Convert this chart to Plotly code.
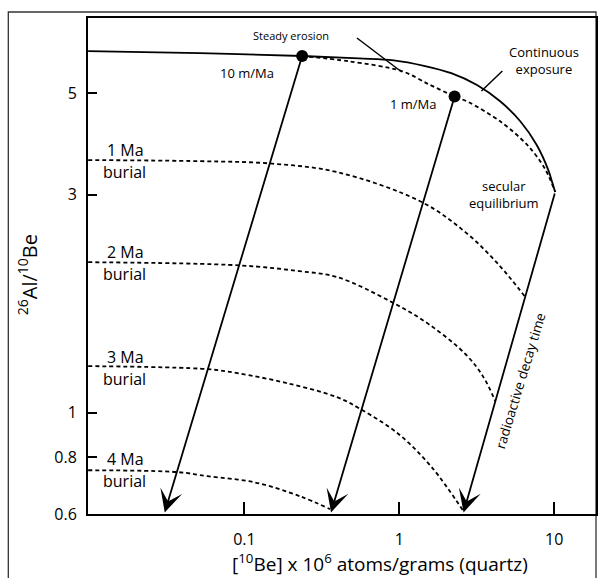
import math
import plotly.graph_objects as go

# ---- data ----
# continuous exposure curve
exp_x = [0.0098, 0.0514, 0.236, 0.549, 0.922, 1.444, 2.166, 3.175, 4.48, 6.04, 7.68, 9.18, 9.77, 10.15]
exp_y = [6.18, 6.12, 6.03, 5.96, 5.90, 5.74, 5.53, 5.21, 4.80, 4.34, 3.86, 3.39, 3.17, 3.04]

# steady erosion curve
ero_x = [0.236, 0.473, 1.038, 1.55, 2.275, 2.80, 4.56, 6.81, 8.75, 10.15]
ero_y = [6.03, 5.87, 5.59, 5.23, 4.92, 4.78, 4.32, 3.83, 3.41, 3.04]

# burial isochrons
b1_x = [0.0098, 0.0514, 0.145, 0.396, 1.395, 2.68, 4.37, 6.51]
b1_y = [3.57, 3.55, 3.51, 3.36, 2.89, 2.48, 2.11, 1.79]
b2_x = [0.0098, 0.0929, 0.2258, 0.396, 0.895, 1.548, 2.68, 3.494, 4.17]
b2_y = [2.134, 2.10, 2.04, 1.98, 1.745, 1.562, 1.342, 1.196, 1.059]
b3_x = [0.0098, 0.0578, 0.0902, 0.189, 0.396, 0.5655, 0.9926, 1.618, 2.60]
b3_y = [1.264, 1.245, 1.22, 1.16, 1.081, 1.017, 0.897, 0.760, 0.608]
b4_x = [0.0098, 0.0371, 0.0578, 0.116, 0.229, 0.357]
b4_y = [0.748, 0.741, 0.726, 0.704, 0.656, 0.615]
burial_labels = ["1 Ma", "2 Ma", "3 Ma", "4 Ma"]

# erosion-rate points (dots)
dot_x = [0.236, 2.275]
dot_y = [6.03, 4.92]

# burial paths (arrows): start -> tip
arrow10_x = [0.236, 0.0306]
arrow10_y = [6.03, 0.605]
arrow1_x = [2.275, 0.3626]
arrow1_y = [4.92, 0.605]
decay_x = [10.15, 2.60]
decay_y = [3.04, 0.605]

x_ticks = [0.1, 1, 10]
x_ticktext = ["0.1", "1", "10"]
y_ticks = [0.6, 0.8, 1, 3, 5]
y_ticktext = ["0.6", "0.8", "1", "3", "5"]

FONT = "Open Sans"
BLACK = "#000000"

fig = go.Figure()

fig.add_trace(go.Scatter(x=exp_x, y=exp_y, mode="lines", line=dict(color=BLACK, width=1.8, shape="spline", smoothing=1.0)))
fig.add_trace(go.Scatter(x=ero_x, y=ero_y, mode="lines", line=dict(color=BLACK, width=1.8, dash="4px,3px", shape="spline", smoothing=0.9)))
for bx, by in [(b1_x, b1_y), (b2_x, b2_y), (b3_x, b3_y), (b4_x, b4_y)]:
    fig.add_trace(go.Scatter(x=bx, y=by, mode="lines", line=dict(color=BLACK, width=1.8, dash="4px,3px", shape="spline", smoothing=1.0)))

fig.add_trace(go.Scatter(x=dot_x, y=dot_y, mode="markers",
                         marker=dict(symbol="circle", size=12, color=BLACK)))

def px2paper(px, py):
    return (px - 88) / 510.0, (514 - py) / 496.0

ann = []
# arrows (log axes: annotation positions are given in log10 units)
for ax_, ay_ in [(arrow10_x, arrow10_y), (arrow1_x, arrow1_y), (decay_x, decay_y)]:
    ann.append(dict(x=math.log10(ax_[1]), y=math.log10(ay_[1]), ax=math.log10(ax_[0]), ay=math.log10(ay_[0]),
                    xref="x", yref="y", axref="x", ayref="y", text="", showarrow=True,
                    arrowhead=3, arrowsize=2.1, arrowwidth=1.8, arrowcolor=BLACK, standoff=0, startstandoff=0))

def add_text(text, px, py, size, angle=0):
    xp, yp = px2paper(px, py)
    ann.append(dict(text=text, x=xp, y=yp, xref="paper", yref="paper", showarrow=False,
                    xanchor="center", yanchor="middle", textangle=angle,
                    font=dict(family=FONT, size=size, color=BLACK)))

add_text("Steady erosion", 292, 36, 11)
add_text("10 m/Ma", 248, 73, 13)
add_text("1 m/Ma", 415, 104, 13)
add_text("Continuous<br>exposure", 546, 60, 13)
add_text("secular<br>equilibrium", 506, 195, 13)
add_text("radioactive decay time", 522, 381, 13.5, -73)

label_centers = [(126, 150, 125, 172), (126, 252, 125, 274), (126, 357, 125, 379), (126, 459, 125, 481)]
for lab, (x1, y1, x2, y2) in zip(burial_labels, label_centers):
    add_text(lab, x1, y1, 16)
    add_text("burial", x2, y2, 16)

add_text("<sup>26</sup>Al/<sup>10</sup>Be", 28, 275, 20, -90)
add_text("[<sup>10</sup>Be] x 10<sup>6</sup> atoms/grams (quartz)", 381, 563, 19)

shapes = []
def add_line(p0, p1, w=1.5):
    x0, y0 = px2paper(*p0)
    x1, y1 = px2paper(*p1)
    shapes.append(dict(type="line", xref="paper", yref="paper", x0=x0, y0=y0, x1=x1, y1=y1,
                       line=dict(color=BLACK, width=w)))

add_line((358, 38), (403, 72))
add_line((483, 91), (504, 71))
ox0, oy0 = px2paper(8, 582)
ox1, oy1 = px2paper(598, 12)
shapes.append(dict(type="rect", xref="paper", yref="paper", x0=ox0, y0=oy0, x1=ox1, y1=oy1,
                   line=dict(color="#333333", width=1.3), layer="below"))

fig.update_layout(
    width=600, height=578,
    margin=dict(l=88, r=2, t=18, b=64),
    paper_bgcolor="white", plot_bgcolor="white",
    showlegend=False,
    annotations=ann, shapes=shapes,
    font=dict(family=FONT, size=16, color=BLACK),
)
fig.update_xaxes(type="log", range=[-2.0096, 1.270], tickvals=x_ticks, ticktext=x_ticktext,
                 ticks="inside", ticklen=12, tickwidth=1.8, tickcolor=BLACK, ticklabelstandoff=10,
                 showline=True, linewidth=2, linecolor=BLACK, mirror=True, showgrid=False, zeroline=False,
                 tickfont=dict(family=FONT, size=16, color=BLACK))
fig.update_yaxes(type="log", range=[-0.2218, 0.8635], tickvals=y_ticks, ticktext=y_ticktext,
                 ticks="inside", ticklen=9, tickwidth=1.8, tickcolor=BLACK, ticklabelstandoff=6,
                 showline=True, linewidth=2, linecolor=BLACK, mirror=True, showgrid=False, zeroline=False,
                 tickfont=dict(family=FONT, size=16, color=BLACK))

fig.write_html("out.html")
